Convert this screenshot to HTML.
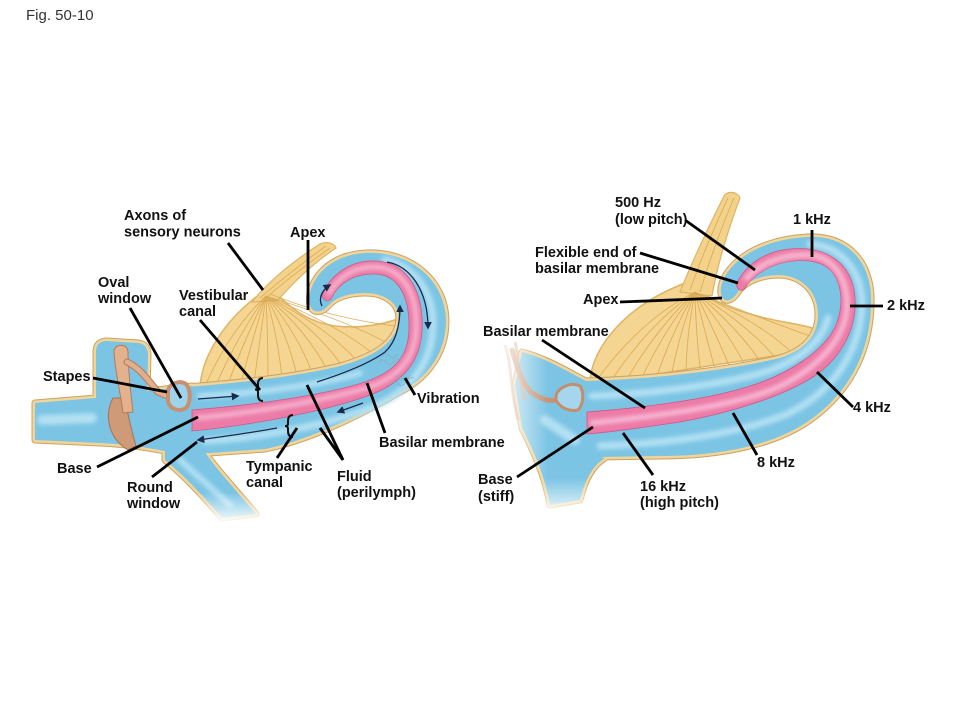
<!DOCTYPE html>
<html><head><meta charset="utf-8">
<style>
html,body{margin:0;padding:0;background:#fff;}
svg{display:block;}
text{font-family:"Liberation Sans",Arial,sans-serif;font-weight:bold;font-size:14.5px;fill:#111;}
</style></head><body>
<svg width="960" height="720" viewBox="0 0 960 720" xmlns="http://www.w3.org/2000/svg">
<defs>
<filter id="bl" x="-20%" y="-20%" width="140%" height="140%"><feGaussianBlur stdDeviation="2"/></filter>
<linearGradient id="fadeL" x1="0" x2="1" y1="0" y2="0">
 <stop offset="0" stop-color="#fff" stop-opacity="1"/>
 <stop offset="0.35" stop-color="#fff" stop-opacity="0.85"/>
 <stop offset="1" stop-color="#fff" stop-opacity="0"/>
</linearGradient>
<linearGradient id="fadeB" x1="0" x2="0" y1="0" y2="1">
 <stop offset="0" stop-color="#fff" stop-opacity="0"/>
 <stop offset="1" stop-color="#fff" stop-opacity="1"/>
</linearGradient>
<marker id="ah" viewBox="0 0 10 10" refX="8" refY="5" markerWidth="6" markerHeight="6" orient="auto">
 <path d="M0,0 L10,5 L0,10 z" fill="#1b2a4a"/>
</marker>
<path id="lvest" d="M35,403 L96,398 L96,352 Q96,341 107,341 L138,343 Q148,344 148,355 L147,391 L192,386 L200,452 L170,452 C150,448 125,444 100,443 L35,440 Z"/>
<path id="lbr" d="M165,445 L202,448 C215,468 236,490 256,514 L222,518 C205,498 185,476 165,460 Z"/>
<path id="cochL" d="M186,387 C240,383 300,376 340,366 C372,357 393,345 398,325 C403,305 386,293 365,293 C346,293 334,299 328,306 C323,312 313,315 310,305 C306,288 322,255 366,253 C412,251 446,282 446,321 C446,355 425,380 398,393 C360,415 310,440 265,449 L195,454 Z"/>
<path id="rvest" d="M522,352 C545,358 565,370 586,381 L586,440 C588,450 595,456 605,458 C592,466 585,480 580,500 L550,505 C545,475 532,448 522,428 L515,385 Z"/>
<path id="cochR" d="M584,381 C640,380 720,372 780,358 C805,350 818,335 818,315 C818,290 800,276 780,275 C760,275 745,282 738,292 C733,300 724,305 721,294 C718,275 745,240 808,237 C850,235 873,265 871,305 C870,345 855,388 810,420 C775,445 720,456 660,456 L598,457 C590,457 584,450 584,440 Z"/>
</defs>

<text x="26" y="20" style="font-weight:normal;font-size:15px;fill:#333">Fig. 50-10</text>

<!-- ============ LEFT FIGURE ============ -->
<path d="M200,387 C202,356 224,322 256,297 L275,292 C290,308 308,322 335,326 C360,329 385,324 400,318 L398,340 L340,366 Z" fill="#f5d592" stroke="#e0b364" stroke-width="1.5"/>
<path d="M252,302 C268,282 292,262 320,244 C326,241 334,243 336,248 C312,264 292,284 278,300 Z" fill="#f3d28c" stroke="#e0b364" stroke-width="1.2"/>
<g fill="none" stroke="#d9a750" stroke-width="0.9" opacity="0.85">
<path d="M266,296 Q230,330 205,386"/><path d="M266,296 Q238,335 216,385"/><path d="M266,296 Q245,338 228,384"/>
<path d="M266,296 Q252,340 241,383"/><path d="M266,296 Q260,340 254,382"/><path d="M266,296 Q268,340 268,380"/>
<path d="M266,296 Q278,338 282,378"/><path d="M266,296 Q288,336 297,376"/><path d="M266,296 Q298,334 312,373"/>
<path d="M266,296 Q308,332 327,370"/><path d="M266,296 Q318,330 342,366"/><path d="M266,296 Q328,328 357,361"/>
<path d="M266,296 Q338,325 372,353"/><path d="M266,296 Q350,322 385,342"/><path d="M270,294 Q330,318 395,326"/>
<path d="M260,298 Q290,272 326,246"/><path d="M268,296 Q296,272 330,248"/>
</g>

<g fill="none" stroke="#c9a365" stroke-width="7" stroke-linejoin="round">
<use href="#lvest"/><use href="#lbr"/><use href="#cochL"/>
</g>
<g fill="none" stroke="#f0d499" stroke-width="5" stroke-linejoin="round">
<use href="#lvest"/><use href="#lbr"/><use href="#cochL"/>
</g>
<g fill="#7bc4e4" stroke="none">
<use href="#lvest"/><use href="#lbr"/><use href="#cochL"/>
</g>
<g fill="none" stroke="#b2e0f3" stroke-linecap="round" filter="url(#bl)">
<path d="M200,396 C260,393 320,385 360,373" stroke-width="6"/>
<path d="M205,441 C270,437 335,423 375,406 C415,388 432,360 433,325 C434,295 415,265 385,260" stroke-width="7"/>
<path d="M42,420 L92,418" stroke-width="10"/>
<path d="M180,460 L230,505" stroke-width="6"/>
</g>
<path d="M192,410 C255,405 325,395 365,382 C397,371 408,355 409,330 C410,296 398,274 374,274 C352,274 338,284 331,299 Q326,304 322,296 C328,278 348,260 375,261 C410,262 424,295 422,332 C420,360 405,382 370,395 C330,410 255,425 192,431 Z" fill="#ec7ba7" stroke="#c95a86" stroke-width="0.8"/>
<path d="M196,418 C255,413 325,400 367,388 C400,377 414,358 416,331 C418,297 405,268 375,267 C352,266 336,280 328,295" fill="none" stroke="#f8bed5" stroke-width="4" filter="url(#bl)"/>

<path d="M113,398 C104,415 108,438 128,450 L136,446 C131,430 128,412 124,398 Z" fill="#cf9a78" stroke="#a9714f" stroke-width="1"/>
<path d="M114,352 C114,343 128,343 128,352 C128,370 131,395 133,412 L123,413 C121,395 115,372 114,352 Z" fill="#e4b18f" stroke="#b57a56" stroke-width="1"/>
<path d="M127,362 C140,368 148,380 158,392 L168,396" fill="none" stroke="#b57a56" stroke-width="7" stroke-linecap="round"/>
<path d="M127,362 C140,368 148,380 158,392 L168,396" fill="none" stroke="#e2ae8c" stroke-width="5" stroke-linecap="round"/>
<path d="M168,390 C170,383 180,380 186,384 C191,390 191,402 186,408 C180,412 171,410 168,402 Z" fill="#9fd3ec" stroke="#c89070" stroke-width="4"/>

<g fill="none" stroke="#1b2a4a" stroke-width="1.3" marker-end="url(#ah)">
<path d="M198,399 L238,396"/>
<path d="M317,382 C345,373 370,363 385,352 C396,342 400,325 400,306"/>
<path d="M387,262 C410,266 428,290 428,328"/>
<path d="M322,306 C318,298 322,290 330,285"/>
<path d="M363,403 L338,412"/>
<path d="M277,428 C250,433 220,437 198,440"/>
</g>
<g fill="none" stroke="#8fa9b8" stroke-width="1" opacity="0.7">
<path d="M378,362 q4,-4 8,0 t8,0 t8,-3"/><path d="M382,356 q4,-4 8,0 t8,-2"/>
<path d="M390,384 q4,-4 8,0 t8,-2 t8,-4"/><path d="M394,378 q4,-4 8,0 t8,-3"/>
</g>
<g fill="none" stroke="#111" stroke-width="2">
<path d="M263,378 Q258,378 258,384 L258,387 Q258,389.5 255,389.5 Q258,389.5 258,392 L258,395 Q258,401 263,401"/>
<path d="M293,415 Q288,415 288,421 L288,424 Q288,426 285,426 Q288,426 288,429 L288,431 Q288,437 293,437"/>
</g>

<!-- ============ RIGHT FIGURE ============ -->
<path d="M590,381 C592,348 625,305 688,282 L702,292 C722,308 760,318 790,323 C805,326 815,328 819,331 L800,352 L650,375 Z" fill="#f5d592" stroke="#e0b364" stroke-width="1.5"/>
<path d="M680,292 C692,262 708,228 724,196 C728,190 738,192 740,198 C728,230 718,262 712,296 Z" fill="#f3d28c" stroke="#e0b364" stroke-width="1.2"/>
<g fill="none" stroke="#d9a750" stroke-width="0.9" opacity="0.85">
<path d="M695,292 Q640,320 596,381"/><path d="M695,292 Q648,325 611,381"/><path d="M695,292 Q655,330 626,381"/>
<path d="M695,292 Q662,333 641,380"/><path d="M695,292 Q670,336 656,379"/><path d="M695,292 Q678,338 671,378"/>
<path d="M695,292 Q686,338 686,377"/><path d="M695,292 Q696,337 701,375"/><path d="M695,292 Q706,336 716,373"/>
<path d="M695,292 Q716,334 731,370"/><path d="M695,292 Q728,332 746,367"/><path d="M695,292 Q740,330 761,363"/>
<path d="M695,292 Q752,328 776,359"/><path d="M695,292 Q765,326 791,352"/><path d="M700,294 Q760,318 810,336"/>
<path d="M690,290 Q706,245 728,198"/><path d="M700,292 Q714,245 734,198"/>
</g>
<g fill="none" stroke="#c9a365" stroke-width="7" stroke-linejoin="round">
<use href="#rvest"/><use href="#cochR"/>
</g>
<g fill="none" stroke="#f0d499" stroke-width="5" stroke-linejoin="round">
<use href="#rvest"/><use href="#cochR"/>
</g>
<g fill="#7bc4e4" stroke="none">
<use href="#rvest"/><use href="#cochR"/>
</g>
<g fill="none" stroke="#b2e0f3" stroke-linecap="round" filter="url(#bl)">
<path d="M592,396 C650,394 720,385 765,372 C800,360 822,342 828,318" stroke-width="7"/>
<path d="M600,446 C660,444 730,436 785,415 C835,392 860,350 862,305 C862,270 840,246 810,244" stroke-width="7"/>
<path d="M545,420 L575,440" stroke-width="10"/>
</g>
<path d="M587,412 C640,408 705,400 747,387 C790,374 825,350 836,325 C846,300 840,275 825,266 C810,257 785,260 768,268 C757,274 749,281 745,288 Q740,294 736,285 C745,265 765,251 790,249 C820,246 848,258 854,290 C860,325 842,358 813,377 C780,398 725,414 680,422 C640,428 610,432 587,434 Z" fill="#ec7ba7" stroke="#c95a86" stroke-width="0.8"/>
<path d="M590,423 C640,418 705,410 750,397 C795,385 835,355 845,320 C852,290 840,258 810,255 C785,254 760,262 745,280" fill="none" stroke="#f8bed5" stroke-width="5" filter="url(#bl)"/>
<g fill="none" stroke="#d2a07e" stroke-width="3" opacity="0.8">
<path d="M505,345 C512,365 510,390 518,420"/>
<path d="M515,342 C520,362 518,380 525,400"/>
</g>
<path d="M556,400 C548,402 540,398 532,393 C524,386 518,372 512,350" fill="none" stroke="#c99372" stroke-width="5" stroke-linecap="round"/>
<path d="M556,395 C560,386 572,382 580,386 C584,392 584,404 578,410 C570,412 560,408 556,400 Z" fill="#a6d6ee" stroke="#c48e6c" stroke-width="3"/>
<rect x="478" y="330" width="70" height="190" fill="url(#fadeL)"/>
<rect x="500" y="478" width="130" height="40" fill="url(#fadeB)"/>
<rect x="150" y="492" width="130" height="32" fill="url(#fadeB)"/>

<g stroke="#000" stroke-width="2.8" fill="none" stroke-linecap="butt">
<line x1="228" y1="243" x2="263" y2="290"/>
<line x1="308" y1="240" x2="308" y2="310"/>
<line x1="130" y1="308" x2="181" y2="398"/>
<line x1="200" y1="320" x2="260" y2="390"/>
<line x1="93" y1="378" x2="167" y2="392"/>
<line x1="97" y1="467" x2="198" y2="417"/>
<line x1="152" y1="477" x2="197" y2="442"/>
<line x1="277" y1="458" x2="297" y2="428"/>
<line x1="343" y1="460" x2="307" y2="385"/>
<line x1="343" y1="460" x2="320" y2="428"/>
<line x1="385" y1="433" x2="367" y2="383"/>
<line x1="415" y1="395" x2="405" y2="378"/>

<line x1="685" y1="220" x2="755" y2="270"/>
<line x1="812" y1="230" x2="812" y2="257"/>
<line x1="640" y1="253" x2="738" y2="283"/>
<line x1="620" y1="302" x2="722" y2="298"/>
<line x1="850" y1="306" x2="883" y2="306"/>
<line x1="542" y1="340" x2="645" y2="408"/>
<line x1="817" y1="372" x2="853" y2="407"/>
<line x1="733" y1="413" x2="757" y2="455"/>
<line x1="517" y1="477" x2="593" y2="427"/>
<line x1="623" y1="433" x2="653" y2="475"/>
</g>

<text x="124" y="220">Axons  of</text>
<text x="124" y="236.5">sensory neurons</text>
<text x="290" y="237">Apex</text>
<text x="98" y="287">Oval</text>
<text x="98" y="303">window</text>
<text x="179" y="300">Vestibular</text>
<text x="179" y="316">canal</text>
<text x="43" y="381">Stapes</text>
<text x="417" y="403">Vibration</text>
<text x="379" y="447">Basilar membrane</text>
<text x="57" y="473">Base</text>
<text x="246" y="471">Tympanic</text>
<text x="246" y="487">canal</text>
<text x="127" y="492">Round</text>
<text x="127" y="508">window</text>
<text x="337" y="481">Fluid</text>
<text x="337" y="497">(perilymph)</text>

<text x="615" y="207">500 Hz</text>
<text x="615" y="224">(low pitch)</text>
<text x="793" y="224">1 kHz</text>
<text x="535" y="257">Flexible end of</text>
<text x="535" y="273">basilar membrane</text>
<text x="583" y="304">Apex</text>
<text x="887" y="310">2 kHz</text>
<text x="483" y="336">Basilar membrane</text>
<text x="853" y="412">4 kHz</text>
<text x="757" y="467">8 kHz</text>
<text x="478" y="484">Base</text>
<text x="478" y="501">(stiff)</text>
<text x="640" y="491">16 kHz</text>
<text x="640" y="507">(high pitch)</text>
</svg>
</body></html>
